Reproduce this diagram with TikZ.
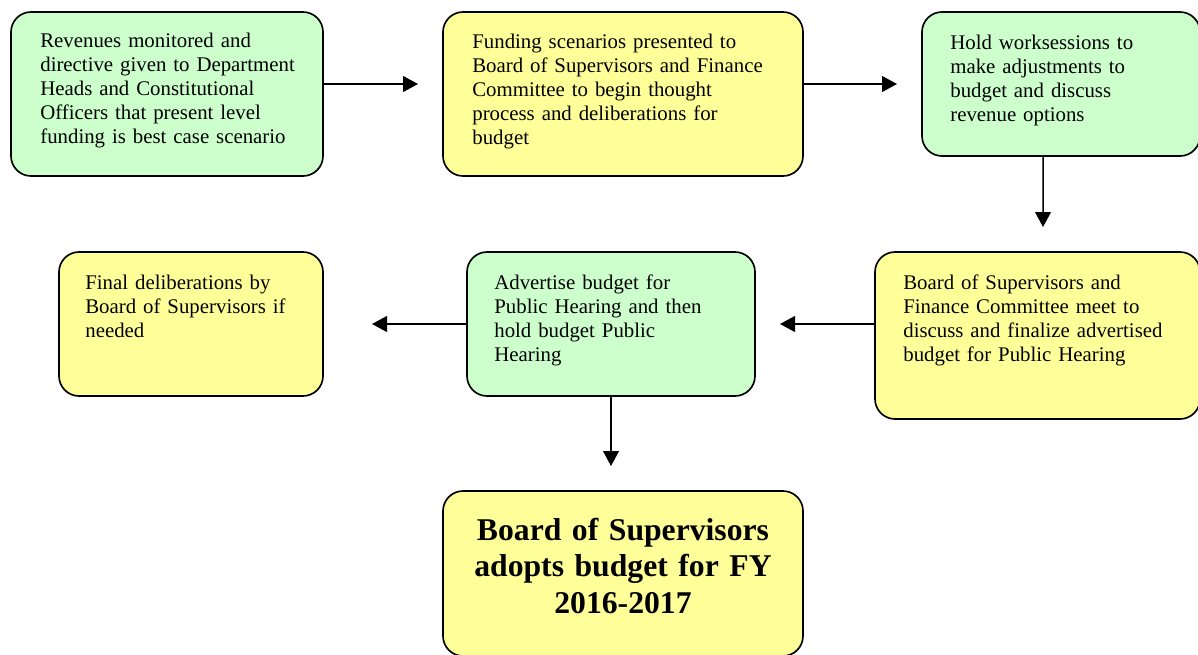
\documentclass[tikz,border=0pt]{standalone}
\usepackage{fontspec}
\setmainfont{Liberation Serif}
\usetikzlibrary{arrows.meta}
\definecolor{boxgreen}{HTML}{CCFFCC}
\definecolor{boxyellow}{HTML}{FFFF99}
\begin{document}
\begin{tikzpicture}[x=0.6pt,y=-0.6pt,
  box/.style={draw=black,line width=1pt,rounded corners=12pt,inner sep=0pt,outer sep=0pt},
  greenbox/.style={box,fill=boxgreen},
  yellowbox/.style={box,fill=boxyellow},
  label/.style={anchor=base west,inner sep=0pt,text width=230pt,align=left,
    font=\fontsize{12.5}{14.4}\selectfont},
  flow/.style={line width=0.9pt,-{Triangle[length=9pt,width=9.5pt]},shorten >=15pt}]
\useasboundingbox[fill=white] (0,0) rectangle (1198,654);

% process boxes
\node[greenbox,minimum width=187.2pt,minimum height=98.4pt] (b1) at (167,94) {};
\node[yellowbox,minimum width=216pt,minimum height=98.4pt] (b2) at (623,94) {};
\node[greenbox,minimum width=166.8pt,minimum height=86.4pt] (b3) at (1061,84) {};
\node[yellowbox,minimum width=195pt,minimum height=100.2pt] (b4) at (1037.5,335.5) {};
\node[greenbox,minimum width=172.8pt,minimum height=86.4pt] (b5) at (611,324) {};
\node[yellowbox,minimum width=158.4pt,minimum height=86.4pt] (b6) at (191,324) {};
\node[yellowbox,minimum width=216pt,minimum height=99pt] (b7) at (623,573.5) {};

% box texts
\node[label] (t1) at (40,47) {Revenues monitored and\\directive given to Department\\Heads and Constitutional\\Officers that present level\\funding is best case scenario};
\node[label] (t2) at (472,48) {Funding scenarios presented to\\Board of Supervisors and Finance\\Committee to begin thought\\process and deliberations for\\budget};
\node[label] (t3) at (950,49) {Hold worksessions to\\make adjustments to\\budget and discuss\\revenue options};
\node[label] (t4) at (903,289) {Board of Supervisors and\\Finance Committee meet to\\discuss and finalize advertised\\budget for Public Hearing};
\node[label] (t5) at (494,289) {Advertise budget for\\Public Hearing and then\\hold budget Public\\Hearing};
\node[label] (t6) at (85,289) {Final deliberations by\\Board of Supervisors if\\needed};
\node[anchor=base,inner sep=0pt,text width=216pt,align=center,
  font=\fontsize{19}{21.9}\selectfont\bfseries] (t7) at (623,540)
  {Board of Supervisors\\adopts budget for FY\\2016-2017};

% connectors
\draw[flow] (b1.east |- b3.west) -- (b2.west |- b3.west);
\draw[flow] (b2.east |- b3.west) -- (b3.west);
\draw[flow] ([xshift=72.6pt]b3.south west) -- ([xshift=100.8pt]b4.north west);
\draw[flow] (b4.west |- b5.east) -- (b5.east);
\draw[flow,shorten >=29.4pt] (b5.west) -- (b6.east);
\draw[flow] (b5.south) -- (b7.north -| b5.south);
\end{tikzpicture}
\end{document}
